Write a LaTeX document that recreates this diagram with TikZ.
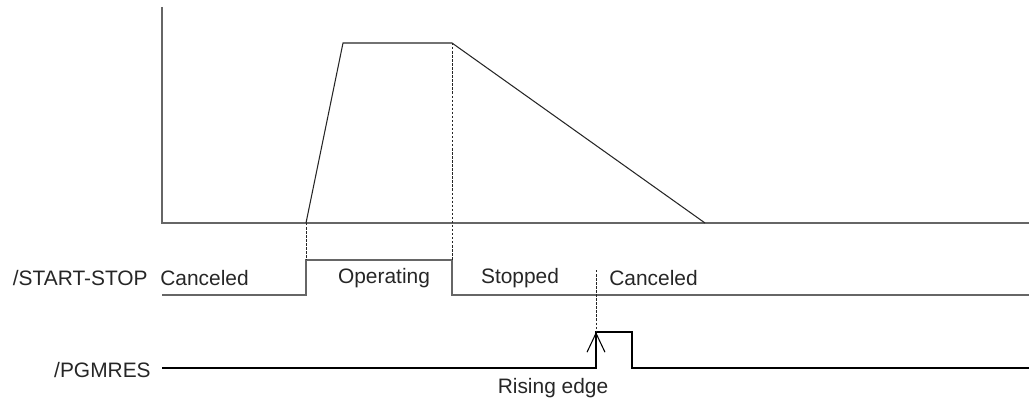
\documentclass[tikz,border=0pt]{standalone}
\usepackage{fontspec}
\setmainfont{Liberation Sans}
\usepackage{tikz}
\usetikzlibrary{arrows.meta}

\tikzset{
  axisline/.style = {draw=black!60, line width=0.85pt},
  sigline/.style = {draw=black!60, line width=0.85pt},
  speedline/.style = {draw=black!85, line width=0.6pt},
  guide/.style = {draw=black!85, line width=0.55pt, dash pattern=on 1.4pt off 0.9pt},
  lbl/.style = {inner sep=0pt, text=black!85, font=\fontsize{11.9}{14}\selectfont}
}

\begin{document}
\begin{tikzpicture}[x=0.02cm, y=-0.02cm]
\useasboundingbox (0,0) rectangle (1032,402);
% speed profile
\coordinate (ytop) at (162,7);
\coordinate (org) at (162,223);
\coordinate (xend) at (1029,223);
\coordinate (acc0) at (306,223);
\coordinate (acc1) at (343,43);
\coordinate (dec0) at (452,43);
\coordinate (dec1) at (705,223);
\draw[axisline] (ytop) -- (org) -- (xend);
\draw[speedline] (acc0) -- (acc1) -- (dec0) -- (dec1);
% /START-STOP
\coordinate (ss0) at (162,295);
\coordinate (ss1) at (306,295);
\coordinate (ss2) at (306,260);
\coordinate (ss3) at (452,260);
\coordinate (ss4) at (452,295);
\coordinate (ss5) at (1029,295);
\draw[sigline] (ss0) -- (ss1) -- (ss2) -- (ss3) -- (ss4) -- (ss5);
\draw[guide] (acc0) -- (ss2);
\draw[guide] (dec0) -- (ss3);
% /PGMRES
\coordinate (pg0) at (162,368);
\coordinate (pg1) at (596,368);
\coordinate (pg2) at (596,332);
\coordinate (pg3) at (632,332);
\coordinate (pg4) at (632,368);
\coordinate (pg5) at (1029,368);
\coordinate (gtop) at (596,270);
\draw[black, line width=0.6pt] (pg0) -- (pg1) -- (pg2) -- (pg3) -- (pg4) -- (pg5);
\draw[black, line width=0.6pt, -{Straight Barb[length=0.38cm, width=0.36cm, line width=0.6pt]}] (pg1) -- (pg2);
\draw[guide] (gtop) -- (pg2);
% labels
\node[lbl, anchor=east] (sslbl) at (148,278) {/START-STOP};
\node[lbl, anchor=west] (cancel1) at (160,278) {Canceled};
\node[lbl] (oper) at (384,278) {Operating};
\node[lbl] (stop) at (520,278) {Stopped};
\node[lbl, anchor=west] (cancel2) at (609,278) {Canceled};
\node[lbl, anchor=east] (pglbl) at (151,370) {/PGMRES};
\node[lbl] (rise) at (553,388) {Rising edge};
\end{tikzpicture}
\end{document}
